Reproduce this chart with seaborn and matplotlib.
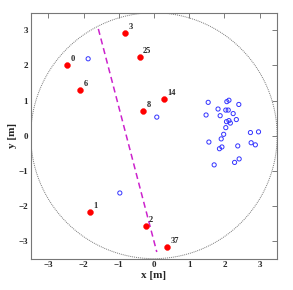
import numpy as np
import pandas as pd
import matplotlib
matplotlib.use("Agg")
import matplotlib.pyplot as plt
import seaborn as sns

# labelled robot positions (red)
robot_ids = ["0", "6", "3", "25", "8", "14", "1", "2", "37"]
robot_x = [-2.46, -2.09, -0.81, -0.41, -0.31, 0.28, -1.81, -0.24, 0.38]
robot_y = [2.00, 1.30, 2.91, 2.24, 0.69, 1.04, -2.18, -2.57, -3.17]

# open blue points
other_x = [-1.87, 0.08, -0.97,
           1.54, 2.07, 2.13, 2.41, 1.82, 2.04, 2.11, 1.48, 1.88, 2.25,
           2.34, 2.06, 2.13, 2.17, 2.04, 2.74, 2.97, 1.98, 1.91, 1.56,
           2.76, 2.88, 2.38, 1.93, 1.86, 2.42, 2.29, 1.71]
other_y = [2.19, 0.53, -1.63,
           0.95, 0.97, 1.01, 0.89, 0.76, 0.73, 0.73, 0.59, 0.57, 0.63,
           0.46, 0.40, 0.43, 0.36, 0.23, 0.09, 0.11, 0.04, -0.09, -0.18,
           -0.20, -0.26, -0.29, -0.32, -0.37, -0.66, -0.76, -0.83]

# dashed separating line end points
line_x = [-1.58, 0.08]
line_y = [3.04, -3.31]

arena_radius = 3.5

sns.set_style("white")
plt.rcParams['font.family'] = ['Liberation Serif', 'DejaVu Serif']
plt.rcParams['font.weight'] = 'bold'

fig = plt.figure(figsize=(2.93, 2.90), dpi=100)
ax = fig.add_axes([0.105, 0.108, 0.841, 0.848])

robots = pd.DataFrame({'x': robot_x, 'y': robot_y, 'id': robot_ids})
others = pd.DataFrame({'x': other_x, 'y': other_y})

theta = np.linspace(0, 2 * np.pi, 400)
ax.plot(arena_radius * np.cos(theta), arena_radius * np.sin(theta),
        color='#777777', ls=(0, (1, 1)), lw=0.7)

sns.lineplot(x=line_x, y=line_y, ax=ax, color='#cc22cc', lw=1.1,
             dashes=False, sort=False)
ax.lines[-1].set_linestyle((0, (4, 2.5)))

sns.scatterplot(data=others, x='x', y='y', ax=ax, s=9, marker='o',
                facecolors='none', edgecolor='#3333ff', linewidth=0.7)
sns.scatterplot(data=robots, x='x', y='y', ax=ax, s=18, color='red',
                edgecolor='red', linewidth=0.3, zorder=5)
for _, r in robots.iterrows():
    ax.text(r['x'] + 0.1, r['y'] + 0.12, r['id'], fontsize=6,
            fontweight='bold')

ax.set_xlim(-3.5, 3.5)
ax.set_ylim(-3.5, 3.5)
ax.set_xticks(range(-3, 4))
ax.set_yticks(range(-3, 4))
ax.tick_params(direction='in', length=3.5, width=0.6, labelsize=6.5,
               top=True, right=True, color='#666666', pad=2)
for sp in ax.spines.values():
    sp.set_color('#777777')
    sp.set_linewidth(0.8)
ax.set_xlabel('x [m]', fontsize=8, fontweight='bold', labelpad=1)
ax.set_ylabel('y [m]', fontsize=8, fontweight='bold', labelpad=1)

fig.savefig('out.png', dpi=100)
